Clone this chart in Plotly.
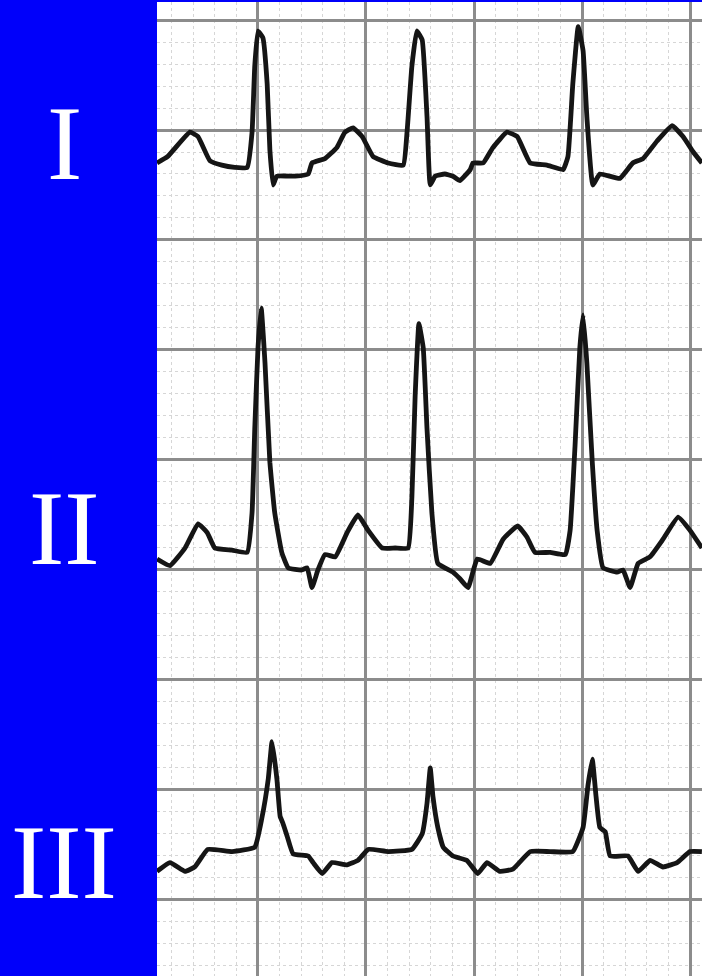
import plotly.graph_objects as go

# ---- data: time (s) and amplitude (mV, relative to each lead's baseline) ----
lead_names = ["I", "II", "III"]

lead1_t = [0.013, 0.033, 0.074, 0.089, 0.111, 0.133, 0.157, 0.180, 0.189, 0.194,
           0.200, 0.209, 0.217, 0.222, 0.228, 0.235, 0.269, 0.293, 0.300, 0.324,
           0.346, 0.361, 0.376, 0.393, 0.413, 0.441, 0.469, 0.476, 0.485, 0.494,
           0.504, 0.513, 0.519, 0.528, 0.546, 0.561, 0.574, 0.593, 0.598, 0.617,
           0.635, 0.661, 0.680, 0.704, 0.735, 0.765, 0.774, 0.783, 0.793, 0.802,
           0.809, 0.820, 0.833, 0.870, 0.894, 0.913, 0.939, 0.967, 0.987, 1.006,
           1.022]
lead1_v = [0.00, 0.03, 0.14, 0.12, 0.01, -0.01, -0.02, -0.02, 0.14, 0.44,
           0.60, 0.57, 0.36, 0.06, -0.10, -0.06, -0.06, -0.05, 0.00, 0.02,
           0.07, 0.14, 0.16, 0.12, 0.03, 0.00, -0.01, 0.14, 0.44, 0.60,
           0.56, 0.21, -0.10, -0.06, -0.05, -0.06, -0.08, -0.03, 0.00, 0.00,
           0.07, 0.14, 0.12, 0.00, -0.01, -0.03, 0.03, 0.36, 0.62, 0.51,
           0.21, -0.10, -0.05, -0.07, 0.00, 0.02, 0.10, 0.17, 0.12, 0.05,
           0.00]

lead2_t = [0.013, 0.037, 0.065, 0.089, 0.106, 0.120, 0.152, 0.180, 0.189, 0.194,
           0.200, 0.206, 0.213, 0.222, 0.231, 0.244, 0.256, 0.281, 0.291, 0.300,
           0.311, 0.324, 0.343, 0.365, 0.385, 0.404, 0.430, 0.454, 0.478, 0.485,
           0.491, 0.498, 0.506, 0.513, 0.522, 0.533, 0.561, 0.574, 0.589, 0.606,
           0.630, 0.654, 0.681, 0.698, 0.713, 0.741, 0.769, 0.778, 0.787, 0.796,
           0.802, 0.809, 0.819, 0.828, 0.839, 0.865, 0.876, 0.889, 0.904, 0.926,
           0.950, 0.978, 1.000, 1.022]
lead2_v = [-0.05, -0.08, 0.00, 0.11, 0.07, 0.00, -0.01, -0.02, 0.16, 0.54,
           0.91, 1.09, 0.84, 0.39, 0.16, -0.02, -0.09, -0.10, -0.09, -0.18,
           -0.10, -0.03, -0.04, 0.07, 0.15, 0.08, 0.00, 0.00, 0.00, 0.23,
           0.69, 1.02, 0.91, 0.54, 0.16, -0.07, -0.11, -0.14, -0.18, -0.05,
           -0.07, 0.04, 0.10, 0.05, -0.02, -0.02, -0.03, 0.08, 0.46, 0.91,
           1.06, 0.84, 0.39, 0.08, -0.09, -0.11, -0.10, -0.18, -0.07, -0.04,
           0.04, 0.14, 0.08, 0.00]

lead3_t = [0.013, 0.037, 0.065, 0.083, 0.107, 0.152, 0.194, 0.207, 0.219, 0.226,
           0.235, 0.241, 0.246, 0.254, 0.265, 0.293, 0.302, 0.319, 0.337, 0.365,
           0.385, 0.404, 0.441, 0.485, 0.504, 0.513, 0.519, 0.524, 0.533, 0.543,
           0.561, 0.587, 0.607, 0.624, 0.648, 0.672, 0.704, 0.741, 0.783, 0.802,
           0.811, 0.819, 0.826, 0.833, 0.843, 0.852, 0.885, 0.904, 0.926, 0.950,
           0.976, 1.000, 1.022]
lead3_v = [-0.09, -0.05, -0.09, -0.07, 0.01, 0.00, 0.02, 0.15, 0.33, 0.50,
           0.33, 0.16, 0.13, 0.07, -0.01, -0.02, -0.05, -0.10, -0.05, -0.06,
           -0.04, 0.01, 0.00, 0.01, 0.08, 0.22, 0.38, 0.25, 0.11, 0.02,
           -0.02, -0.04, -0.10, -0.05, -0.09, -0.08, 0.00, 0.00, 0.00, 0.11,
           0.30, 0.42, 0.25, 0.11, 0.09, -0.02, -0.02, -0.09, -0.04, -0.07,
           -0.05, 0.00, 0.00]

lead_times = [lead1_t, lead2_t, lead3_t]
lead_values = [lead1_v, lead2_v, lead3_v]

# ---- layout parameters ----
lead_baselines = [3.35, 1.60, 0.22]      # mV position of each lead's baseline on the paper
label_y = [3.44, 1.69, 0.17]             # mV position of the lead labels
x_range = [0.013, 1.0222]
y_range = [-0.3455, 4.0818]

BLUE = "#0000fa"
TRACE = "#151515"

fig = go.Figure()
for t, v, base in zip(lead_times, lead_values, lead_baselines):
    fig.add_trace(go.Scatter(
        x=t, y=[val + base for val in v], mode="lines",
        line=dict(color=TRACE, width=4.8, shape="spline", smoothing=0.35),
        hoverinfo="skip", showlegend=False))

for name, ly in zip(lead_names, label_y):
    fig.add_annotation(
        text=name, xref="paper", yref="y", x=-0.1706, y=ly,
        xanchor="center", yanchor="middle", showarrow=False,
        font=dict(family="Liberation Serif", size=106, color="white"))

axis_common = dict(showticklabels=False, ticks="", zeroline=False,
                   showline=False, fixedrange=True)
fig.update_xaxes(range=x_range, tick0=0, dtick=0.2, showgrid=True,
                 gridcolor="#8c8c8c", gridwidth=2.5,
                 minor=dict(tick0=0, dtick=0.04, showgrid=True,
                            gridcolor="#d6d6d6", gridwidth=1.2, griddash="dot"),
                 **axis_common)
fig.update_yaxes(range=y_range, tick0=0, dtick=0.5, showgrid=True,
                 gridcolor="#8c8c8c", gridwidth=2.5,
                 minor=dict(tick0=0, dtick=0.1, showgrid=True,
                            gridcolor="#d6d6d6", gridwidth=1.2, griddash="dot"),
                 **axis_common)

fig.update_layout(
    width=702, height=976, autosize=False,
    margin=dict(l=157, r=0, t=2, b=0, pad=0),
    paper_bgcolor=BLUE, plot_bgcolor="white",
)

fig.write_html("out.html", config={"displayModeBar": False},
               post_script="document.body.style.margin='0';document.body.style.background='" + BLUE + "';")
